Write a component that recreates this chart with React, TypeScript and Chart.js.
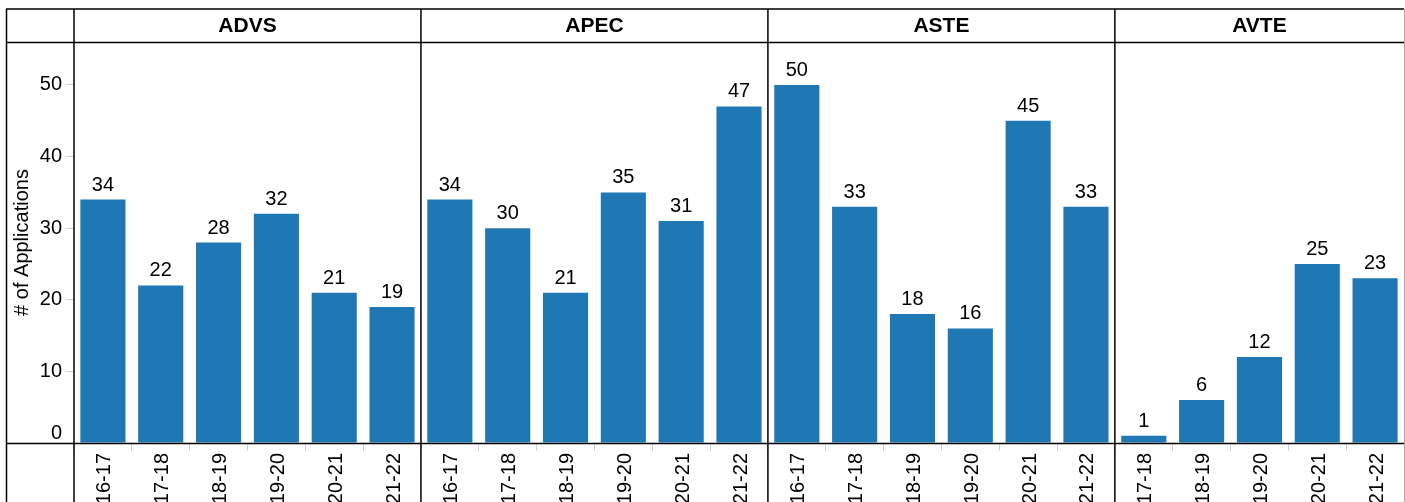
import React, { useEffect, useRef } from "react";
import { Chart, registerables } from "chart.js";

Chart.register(...registerables);

const facetNames = ["ADVS", "APEC", "ASTE", "AVTE"];

const advsYears = ["16-17", "17-18", "18-19", "19-20", "20-21", "21-22"];
const advsValues = [34, 22, 28, 32, 21, 19];

const apecYears = ["16-17", "17-18", "18-19", "19-20", "20-21", "21-22"];
const apecValues = [34, 30, 21, 35, 31, 47];

const asteYears = ["16-17", "17-18", "18-19", "19-20", "20-21", "21-22"];
const asteValues = [50, 33, 18, 16, 45, 33];

const avteYears = ["17-18", "18-19", "19-20", "20-21", "21-22"];
const avteValues = [1, 6, 12, 25, 23];

const yTitle = "# of Applications";
const yMin = 0;
const yMax = 56;
const yStep = 10;

const BAR_COLOR = "#1f77b4";
const FONT_FAMILY = "'Liberation Sans', Arial, Helvetica, sans-serif";
const FONT_SIZE = 20;

export default function App() {
  const canvasRef = useRef<HTMLCanvasElement | null>(null);

  useEffect(() => {
    const canvas = canvasRef.current;
    if (!canvas) return;

    const facetYears = [advsYears, apecYears, asteYears, avteYears];
    const facetValues = [advsValues, apecValues, asteValues, avteValues];
    const labels: string[] = [];
    const values: number[] = [];
    const facetSizes: number[] = [];
    facetYears.forEach((yrs, i) => {
      yrs.forEach((y, j) => {
        labels.push(y);
        values.push(facetValues[i][j]);
      });
      facetSizes.push(yrs.length);
    });

    const framePlugin = {
      id: "facetFrame",
      afterDraw(chart: any) {
        const ctx = chart.ctx as CanvasRenderingContext2D;
        const area = chart.chartArea;
        const ys = chart.scales.y;
        const n = labels.length;
        const band = (area.right - area.left) / n;
        const frameTop = area.top - 33;
        const frameLeft = 6;
        const frameBottom = chart.height;

        const bounds: number[] = [area.left];
        let acc = 0;
        facetSizes.forEach((s) => {
          acc += s;
          bounds.push(area.left + band * acc);
        });

        ctx.save();
        // Data labels
        const meta = chart.getDatasetMeta(0);
        ctx.fillStyle = "#000";
        ctx.font = `${FONT_SIZE}px ${FONT_FAMILY}`;
        ctx.textAlign = "center";
        ctx.textBaseline = "alphabetic";
        meta.data.forEach((bar: any, i: number) => {
          ctx.fillText(String(values[i]), bar.x, bar.y - 9);
        });

        // zero tick label, lifted above the axis line
        ctx.textAlign = "right";
        ctx.textBaseline = "middle";
        ctx.fillText("0", area.left - 12, ys.getPixelForValue(0) - 10);

        // Facet headers
        ctx.font = `bold 21px ${FONT_FAMILY}`;
        ctx.textAlign = "center";
        ctx.textBaseline = "middle";
        facetNames.forEach((name, i) => {
          const cx = (bounds[i] + bounds[i + 1]) / 2;
          ctx.fillText(name, cx, (frameTop + area.top) / 2 + 0.5);
        });

        // Frame lines
        ctx.strokeStyle = "#000";
        ctx.lineWidth = 1.5;
        ctx.beginPath();
        ctx.moveTo(frameLeft, frameTop);
        ctx.lineTo(area.right, frameTop);
        ctx.moveTo(frameLeft, area.top + 0.5);
        ctx.lineTo(area.right, area.top + 0.5);
        ctx.moveTo(frameLeft, area.bottom + 0.5);
        ctx.lineTo(area.right, area.bottom + 0.5);
        ctx.moveTo(frameLeft + 0.5, frameTop);
        ctx.lineTo(frameLeft + 0.5, frameBottom);
        bounds.slice(0, bounds.length - 1).forEach((bx) => {
          ctx.moveTo(bx, frameTop);
          ctx.lineTo(bx, frameBottom);
        });
        ctx.stroke();

        ctx.strokeStyle = "#aaa";
        ctx.lineWidth = 1;
        ctx.beginPath();
        ctx.moveTo(area.right + 0.5, frameTop);
        ctx.lineTo(area.right + 0.5, frameBottom);
        ctx.stroke();
        ctx.restore();
      },
    };

    const chart = new Chart(canvas, {
      type: "bar",
      data: {
        labels,
        datasets: [
          {
            data: values,
            backgroundColor: BAR_COLOR,
            borderWidth: 0,
            barPercentage: 0.78,
            categoryPercentage: 1,
          },
        ],
      },
      options: {
        responsive: false,
        animation: false,
        devicePixelRatio: 1,
        layout: { padding: { top: 42, left: 6, right: 1, bottom: 0 } },
        plugins: {
          legend: { display: false },
          title: { display: false },
          tooltip: { enabled: false },
        },
        scales: {
          x: {
            type: "category",
            grid: {
              display: true,
              drawOnChartArea: false,
              drawTicks: true,
              tickLength: 8,
              color: "#d0d0d0",
              offset: true,
            },
            border: { display: false },
            ticks: {
              autoSkip: false,
              minRotation: 90,
              maxRotation: 90,
              padding: 2,
              labelOffset: 2,
              color: "#000",
              font: { family: FONT_FAMILY, size: FONT_SIZE },
            },
            afterFit: (s: any) => {
              s.height = 59;
            },
          },
          y: {
            min: yMin,
            max: yMax,
            grid: {
              display: true,
              drawOnChartArea: false,
              drawTicks: true,
              tickLength: 8,
              color: "#d0d0d0",
            },
            border: { display: false },
            ticks: {
              stepSize: yStep,
              includeBounds: false,
              padding: 4,
              color: (c: any) => (c.tick && c.tick.value === 0 ? "rgba(0,0,0,0)" : "#000"),
              font: { family: FONT_FAMILY, size: FONT_SIZE },
            },
            title: {
              display: true,
              text: yTitle,
              color: "#000",
              padding: { top: 4, bottom: 0 },
              font: { family: FONT_FAMILY, size: FONT_SIZE },
            },
            afterFit: (s: any) => {
              s.width = 68;
            },
          },
        },
      },
      plugins: [framePlugin],
    });

    return () => {
      chart.destroy();
    };
  }, []);

  return (
    <div style={{ position: "absolute", left: 0, top: 0, width: 1405, height: 502, background: "#fff" }}>
      <canvas ref={canvasRef} width={1405} height={502} style={{ display: "block", width: 1405, height: 502 }} />
    </div>
  );
}
